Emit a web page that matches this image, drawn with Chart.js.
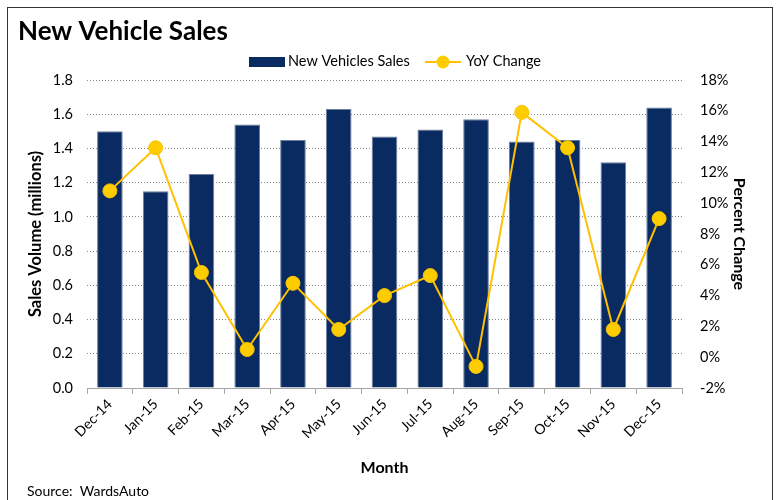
<!DOCTYPE html>
<html><head><meta charset="utf-8">
<script src="https://cdn.jsdelivr.net/npm/chart.js@4"></script>
<style>html,body{margin:0;padding:0;background:#fff}#wrap{width:779px;height:500px;position:relative}</style>
</head><body><div id="wrap"><canvas id="c" width="779" height="500"></canvas></div>
<script>
const months = ['Dec-14','Jan-15','Feb-15','Mar-15','Apr-15','May-15','Jun-15','Jul-15','Aug-15','Sep-15','Oct-15','Nov-15','Dec-15'];
const salesMillions = [1.50,1.15,1.25,1.54,1.45,1.63,1.47,1.51,1.57,1.44,1.45,1.32,1.64];
const yoyChangePct = [10.8,13.6,5.5,0.5,4.8,1.8,4.0,5.3,-0.6,15.9,13.6,1.8,9.0];
const titleText = 'New Vehicle Sales';
const sourceText = 'Source:  WardsAuto';
const legendLabels = ['New Vehicles Sales','YoY Change'];

const FONT = 'Lato, "Open Sans", sans-serif';
const NAVY = '#0a2a62';
const GOLD = '#FFC000';

const decor = {
  id: 'decor',
  beforeDraw(chart) {
    const ctx = chart.ctx;
    ctx.save();
    ctx.fillStyle = '#fff';
    ctx.fillRect(0, 0, chart.width, chart.height);
    ctx.strokeStyle = '#333';
    ctx.lineWidth = 1;
    ctx.strokeRect(7.5, 7.5, 765, 600);
    ctx.restore();
  },
  afterDraw(chart) {
    const ctx = chart.ctx;
    ctx.save();
    ctx.fillStyle = '#000';
    ctx.textBaseline = 'alphabetic';
    ctx.textAlign = 'left';
    ctx.font = 'bold 26px ' + FONT;
    ctx.fillText(titleText, 18, 39.5);
    ctx.font = '14px ' + FONT;
    ctx.fillText(sourceText, 27, 496);
    // legend
    ctx.fillStyle = NAVY;
    ctx.fillRect(249, 57, 36, 10);
    ctx.fillStyle = '#000';
    ctx.font = '14.5px ' + FONT;
    ctx.textBaseline = 'middle';
    ctx.fillText(legendLabels[0], 288, 61);
    ctx.strokeStyle = GOLD;
    ctx.lineWidth = 2;
    ctx.beginPath(); ctx.moveTo(425, 62); ctx.lineTo(461, 62); ctx.stroke();
    ctx.fillStyle = '#FFCC00';
    ctx.beginPath(); ctx.arc(443, 62, 6.5, 0, Math.PI * 2); ctx.fill();
    ctx.fillStyle = '#000';
    ctx.fillText(legendLabels[1], 466, 61);
    ctx.restore();
  }
};

new Chart(document.getElementById('c'), {
  data: {
    labels: months,
    datasets: [
      {
        type: 'line', label: legendLabels[1], data: yoyChangePct, yAxisID: 'y2', order: 0,
        borderColor: GOLD, borderWidth: 2, tension: 0,
        pointRadius: 7, pointHoverRadius: 7, pointBackgroundColor: '#FFCC00', pointBorderColor: '#F7C400', pointBorderWidth: 1
      },
      {
        type: 'bar', label: legendLabels[0], data: salesMillions, yAxisID: 'y', order: 1,
        backgroundColor: NAVY, borderColor: '#6d7fa0', borderWidth: 1,
        categoryPercentage: 1, barPercentage: 0.56
      }
    ]
  },
  options: {
    responsive: false, animation: false,
    layout: { padding: { left: 26, right: 30, top: 80, bottom: 23 } },
    plugins: { legend: { display: false }, tooltip: { enabled: false }, title: { display: false } },
    scales: {
      x: {
        offset: true,
        grid: { display: true, drawOnChartArea: false, drawTicks: true, tickLength: 6, color: '#a6a6a6', offset: true },
        border: { display: true, color: '#a6a6a6', width: 1 },
        ticks: { autoSkip: false, minRotation: 45, maxRotation: 45, color: '#000', font: { family: FONT, size: 14 }, padding: 2 },
        title: { display: true, text: 'Month', color: '#000', font: { family: FONT, size: 16, weight: 'bold' }, padding: 0 },
        afterFit(s) { s.height = 89; }
      },
      y: {
        position: 'left', min: 0, max: 1.8,
        ticks: { stepSize: 0.2, color: '#000', font: { family: FONT, size: 14.5 }, padding: 14, callback: v => Number(v).toFixed(1) },
        grid: { color: '#8a8a8a', drawTicks: false, lineWidth: 1 },
        border: { display: false, dash: [1, 2] },
        title: { display: true, text: 'Sales Volume (millions)', color: '#000', font: { family: FONT, size: 16.5, weight: 'bold' }, padding: 0 },
        afterFit(s) { s.width = 61; }
      },
      y2: {
        position: 'right', min: -2, max: 18,
        ticks: { stepSize: 2, color: '#000', font: { family: FONT, size: 14.5 }, padding: 18, callback: v => v + '%' },
        grid: { drawOnChartArea: false, drawTicks: false },
        border: { display: false },
        title: { display: true, text: 'Percent Change', color: '#000', font: { family: FONT, size: 16, weight: 'bold' }, padding: 0 },
        afterFit(s) { s.width = 67; }
      }
    }
  },
  plugins: [decor]
});
</script></body></html>
